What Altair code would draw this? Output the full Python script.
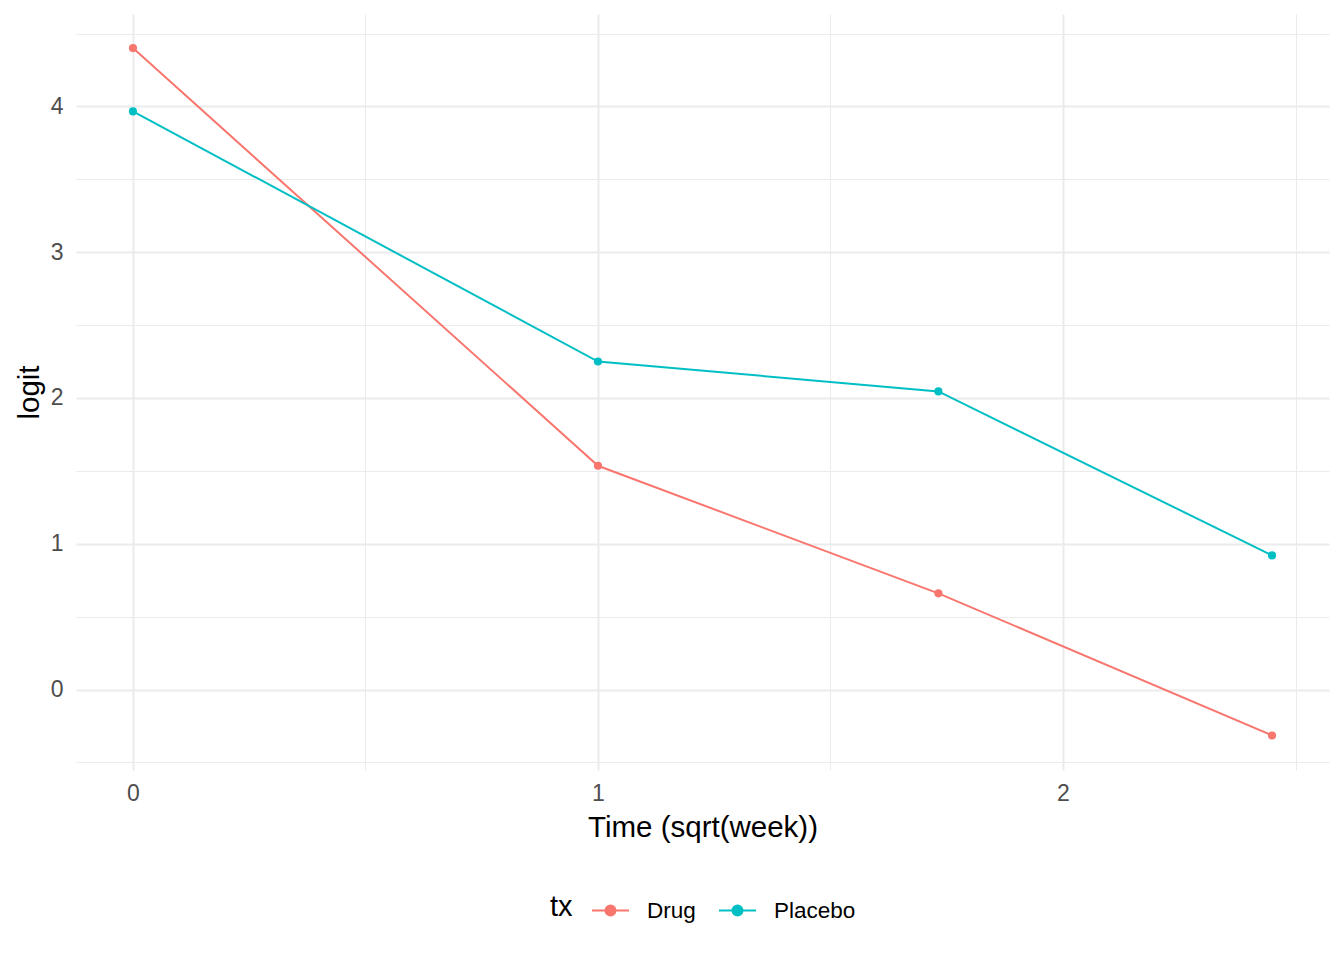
import altair as alt
import pandas as pd

weeks = [0, 1, 3, 6]
time_sqrt = [0.0, 1.0, 1.7320508, 2.4494897]
drug_logit = [4.40, 1.535, 0.66, -0.315]
placebo_logit = [3.966, 2.25, 2.045, 0.92]
groups = ["Drug", "Placebo"]
colors = ["#F8766D", "#00BFC4"]
x_ticks = [0.0, 0.5, 1.0, 1.5, 2.0, 2.5]
y_ticks = [-0.5, 0.0, 0.5, 1.0, 1.5, 2.0, 2.5, 3.0, 3.5, 4.0, 4.5]

rows = []
for t, d, p in zip(time_sqrt, drug_logit, placebo_logit):
    rows.append({"time": t, "logit": d, "tx": "Drug"})
    rows.append({"time": t, "logit": p, "tx": "Placebo"})
df = pd.DataFrame(rows)

grid_w = {"condition": {"test": "datum.value % 1 !== 0", "value": 1}, "value": 2}
lbl = "datum.value % 1 === 0 ? format(datum.value, 'd') : ''"

x = alt.X("time:Q", title="Time (sqrt(week))",
          scale=alt.Scale(domain=[-0.1225, 2.572], nice=False, zero=False),
          axis=alt.Axis(values=x_ticks, labelExpr=lbl,
                        gridWidth=grid_w, labelPadding=12, titlePadding=8))
y = alt.Y("logit:Q", title="logit",
          scale=alt.Scale(domain=[-0.552, 4.634], nice=False, zero=False),
          axis=alt.Axis(values=y_ticks, labelExpr=lbl,
                        gridWidth=grid_w, labelPadding=13, titlePadding=6))

legend_path = "M-1,0L1,0M-0.27,0a0.27,0.27 0 1,0 0.54,0a0.27,0.27 0 1,0 -0.54,0"
color = alt.Color("tx:N", title="tx",
                  scale=alt.Scale(domain=groups, range=colors),
                  legend=alt.Legend(orient="none", legendX=474, legendY=877,
                                    direction="horizontal", titleOrient="left",
                                    titleBaseline="middle",
                                    symbolType=legend_path, symbolSize=1369,
                                    symbolStrokeWidth=2,
                                    symbolFillColor={"expr": "scale('color', datum.value)"},
                                    labelOffset=17, columnPadding=19,
                                    titlePadding=18, padding=0))

base = alt.Chart(df).encode(x=x, y=y, color=color)
lines = base.mark_line(strokeWidth=2)
points = base.mark_point(filled=True, size=66, opacity=1)

chart = alt.layer(lines, points).properties(
    width=1253, height=756,
    padding={"left": 68, "top": 6, "right": 7, "bottom": 178},
    autosize=alt.AutoSizeParams(type="none"),
).configure_view(stroke=None).configure_axis(
    domain=False, ticks=False, gridColor="#EBEBEB",
    labelColor="#4D4D4D", labelFont="Liberation Sans", labelFontSize=23,
    titleColor="#000000", titleFont="Liberation Sans", titleFontSize=29.5,
    titleFontWeight="normal",
).configure_legend(
    labelFont="Liberation Sans", labelFontSize=22.5, labelColor="#000000",
    titleFont="Liberation Sans", titleFontSize=29, titleFontWeight="normal",
    titleColor="#000000",
)

chart.save("out.html", embed_options={"renderer": "svg", "actions": False})
